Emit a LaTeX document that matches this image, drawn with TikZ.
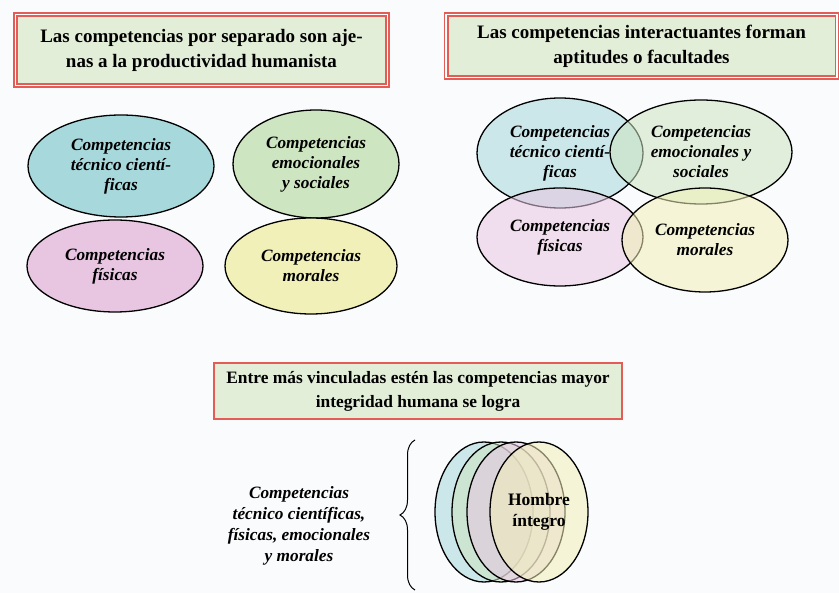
\documentclass[tikz,border=0pt]{standalone}
\usepackage{fontspec}
\setmainfont{Liberation Serif}
\usetikzlibrary{shapes.geometric,decorations.pathreplacing}
\definecolor{titlefill}{RGB}{227,238,217}
\definecolor{titlered}{RGB}{228,92,86}
\definecolor{cblue}{RGB}{167,216,220}
\definecolor{cgreen}{RGB}{205,229,192}
\definecolor{cpink}{RGB}{232,198,226}
\definecolor{cyellow}{RGB}{241,240,184}
\definecolor{paper}{RGB}{250,251,252}
\begin{document}
\begin{tikzpicture}[x=1pt,y=-1pt,
    titlebox/.style={draw=titlered, fill=titlefill, line width=1.8pt, double=white, double distance=1.4pt,
        align=center, inner sep=0pt, font=\fontsize{19}{25}\selectfont\bfseries},
    comp/.style={ellipse, draw, line width=1.3pt, inner sep=0pt, align=center,
        font=\fontsize{17.3}{20}\selectfont\bfseries\itshape},
    seen/.style={fill opacity=0.55, text opacity=1},
    ]
    \useasboundingbox[fill=paper] (0,0) rectangle (839,593);

    % titles
    \node[titlebox, minimum width=372, minimum height=71] (sep) at (201.5,50)
        {Las competencias por separado son aje-\\nas a la productividad humanista};
    \node[titlebox, minimum width=391, minimum height=63] (inter) at (641.5,46)
        {Las competencias interactuantes forman\\aptitudes o facultades};
    \node[titlebox, double=none, line width=2pt, minimum width=408, minimum height=56,
        font=\fontsize{17.4}{24}\selectfont\bfseries] (integ) at (418,391)
        {Entre más vinculadas estén las competencias mayor\\integridad humana se logra};

    % separated
    \node[comp, fill=cblue, minimum width=186, minimum height=102] (tecA) at (121,166)
        {Competencias\\técnico cientí-\\ficas};
    \node[comp, fill=cgreen, minimum width=166, minimum height=108] (emoA) at (316,164)
        {Competencias\\emocionales\\y sociales};
    \node[comp, fill=cpink, minimum width=176, minimum height=92] (fisA) at (115,266)
        {Competencias\\físicas};
    \node[comp, fill=cyellow, minimum width=172, minimum height=96] (morA) at (311,266)
        {Competencias\\morales};

    % interacting
    \node[comp, seen, fill=cblue, minimum width=166, minimum height=110] (tecB) at (560,153)
        {Competencias\\técnico cientí-\\ficas};
    \node[comp, seen, fill=cgreen, minimum width=182, minimum height=104] (emoB) at (701,152)
        {Competencias\\emocionales y\\sociales};
    \node[comp, seen, fill=cpink, minimum width=166, minimum height=98] (fisB) at (560,237)
        {Competencias\\físicas};
    \node[comp, seen, fill=cyellow, minimum width=166, minimum height=104] (morB) at (705,240)
        {Competencias\\morales};

    % linked
    \node[font=\fontsize{17.3}{21}\selectfont\bfseries\itshape, align=center] (todas) at (299,526)
        {Competencias\\técnico científicas,\\físicas, emocionales\\y morales};
    \coordinate (braceBot) at (415,590);
    \coordinate (braceTop) at (415,440);
    \draw[line width=1pt, decorate, decoration={brace, amplitude=15pt}] (braceBot) -- (braceTop);

    \node[comp, seen, fill=cblue, minimum width=98, minimum height=140] (tecC) at (484,512) {};
    \node[comp, seen, fill=cgreen, minimum width=98, minimum height=140] (emoC) at (501,512) {};
    \node[comp, seen, fill=cpink, minimum width=98, minimum height=140] (fisC) at (516,512) {};
    \node[comp, seen, fill=cyellow, minimum width=98, minimum height=140,
        font=\fontsize{17.5}{21}\selectfont\bfseries] (morC) at (539,512) {Hombre\\íntegro};
\end{tikzpicture}
\end{document}
